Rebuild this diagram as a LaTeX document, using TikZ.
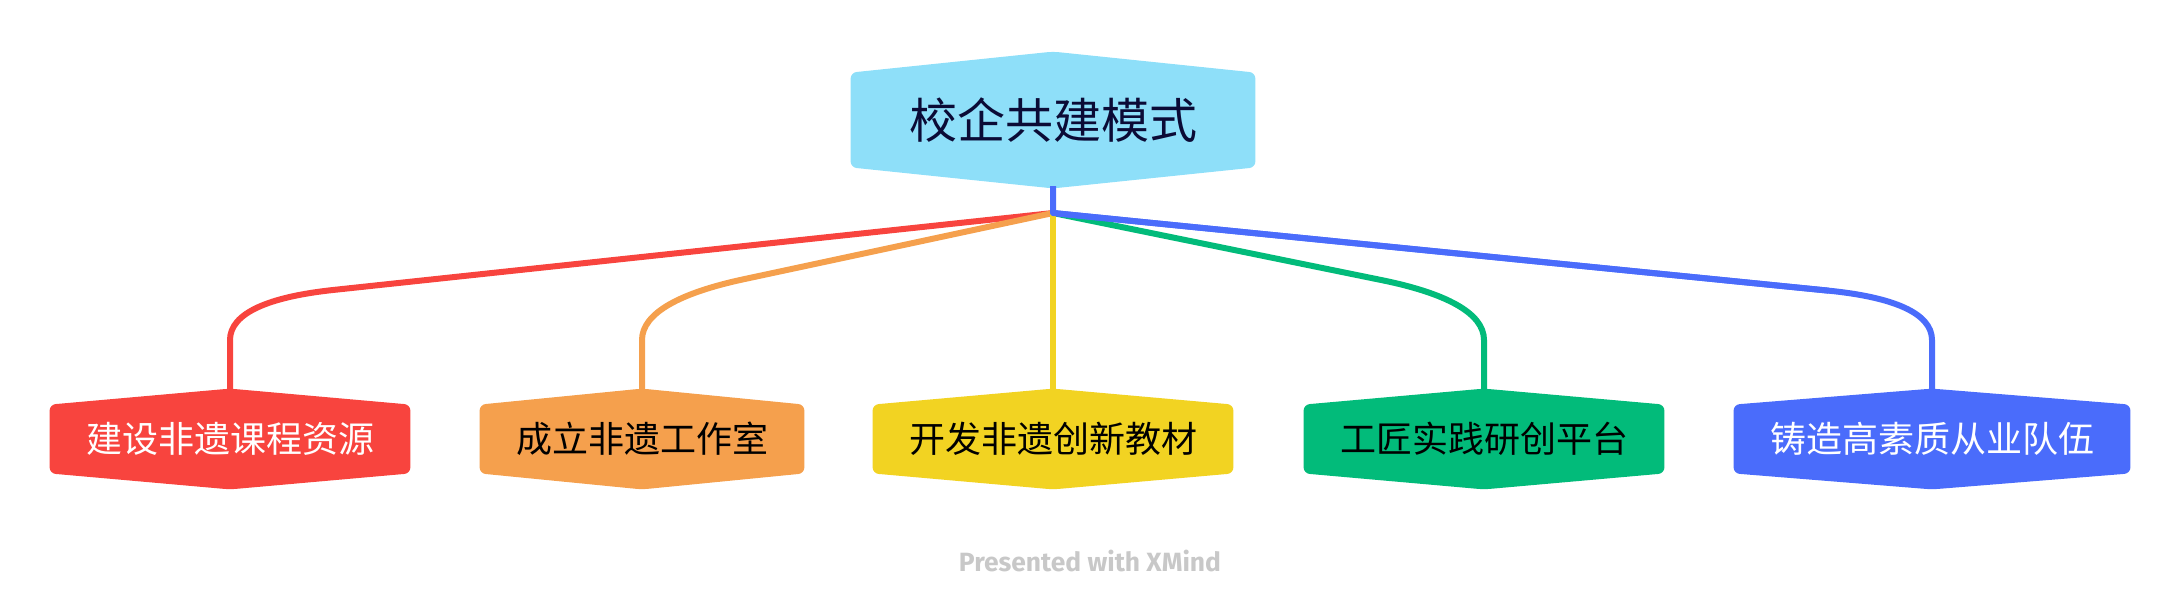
\documentclass[tikz,border=0pt]{standalone}
\usepackage{fontspec}
\setmainfont{Fira Sans}
\newfontfamily\cjk{Noto Sans CJK SC}
\usetikzlibrary{calc,backgrounds}
\definecolor{cRoot}{HTML}{8EDFF9}
\definecolor{cRootText}{HTML}{0B0B36}
\definecolor{cRed}{HTML}{F8443E}
\definecolor{cOrange}{HTML}{F5A04D}
\definecolor{cYellow}{HTML}{F2D322}
\definecolor{cGreen}{HTML}{02BB7A}
\definecolor{cBlue}{HTML}{4A6CFB}
\definecolor{cFoot}{HTML}{C8C8C8}
\newcommand\hexfill[3]{%
  \fill[#3, rounded corners=3pt] (#1.north west) -- ($(#1.north)+(0,#2)$) -- (#1.north east)
    -- (#1.south east) -- ($(#1.south)+(0,-#2)$) -- (#1.south west) -- cycle;}
\tikzset{
  rootbox/.style={inner sep=0pt, minimum width=202pt, minimum height=47pt,
    font=\cjk\fontsize{24pt}{24pt}\selectfont, text=cRootText},
  childbox/.style={inner sep=0pt, minimum height=34pt,
    font=\cjk\fontsize{18pt}{18pt}\selectfont},
  link/.style={line width=3pt, line join=round},
  footer/.style={font=\fontsize{13.2pt}{13.2pt}\selectfont\bfseries, text=cFoot}
}
\begin{document}
\begin{tikzpicture}[x=0.5pt, y=0.5pt]
\useasboundingbox (0,0) rectangle (2180,-612);
% nodes
\node[rootbox] (root) at (1053,-120) {校企共建模式};
\node[childbox, minimum width=180pt, text=white] (c1) at (230,-439) {建设非遗课程资源};
\node[childbox, minimum width=162pt, text=black] (c2) at (642,-439) {成立非遗工作室};
\node[childbox, minimum width=180pt, text=black] (c3) at (1053,-439) {开发非遗创新教材};
\node[childbox, minimum width=180pt, text=black] (c4) at (1484,-439) {工匠实践研创平台};
\node[childbox, minimum width=198pt, text=white] (c5) at (1932,-439) {铸造高素质从业队伍};
\node[footer] (foot) at (1090,-561) {Presented with XMind};
\begin{scope}[on background layer]
\hexfill{root}{21}{cRoot}
\hexfill{c1}{16}{cRed}
\hexfill{c2}{16}{cOrange}
\hexfill{c3}{16}{cYellow}
\hexfill{c4}{16}{cGreen}
\hexfill{c5}{16}{cBlue}
% connectors
\coordinate (J) at (1053,-213);
\foreach \n/\col in {c1/cRed, c2/cOrange, c4/cGreen, c5/cBlue}{
  \coordinate (C) at (\n.north |- 0,-301);
  \coordinate (E) at (\n.north |- 0,-340);
  \draw[link, \col] (J) -- ($(C)!52pt!(J)$) .. controls ($(C)!20pt!(J)$) and ($(C)!0.3!(E)$) .. (E) -- (\n.north);
}
\draw[link, cYellow] (J) -- (c3.north);
\draw[link, cBlue] (root.south |- 0,-186) -- (J) -- ($(c5.north |- 0,-301)!52pt!(J)$);
\end{scope}
\end{tikzpicture}
\end{document}
